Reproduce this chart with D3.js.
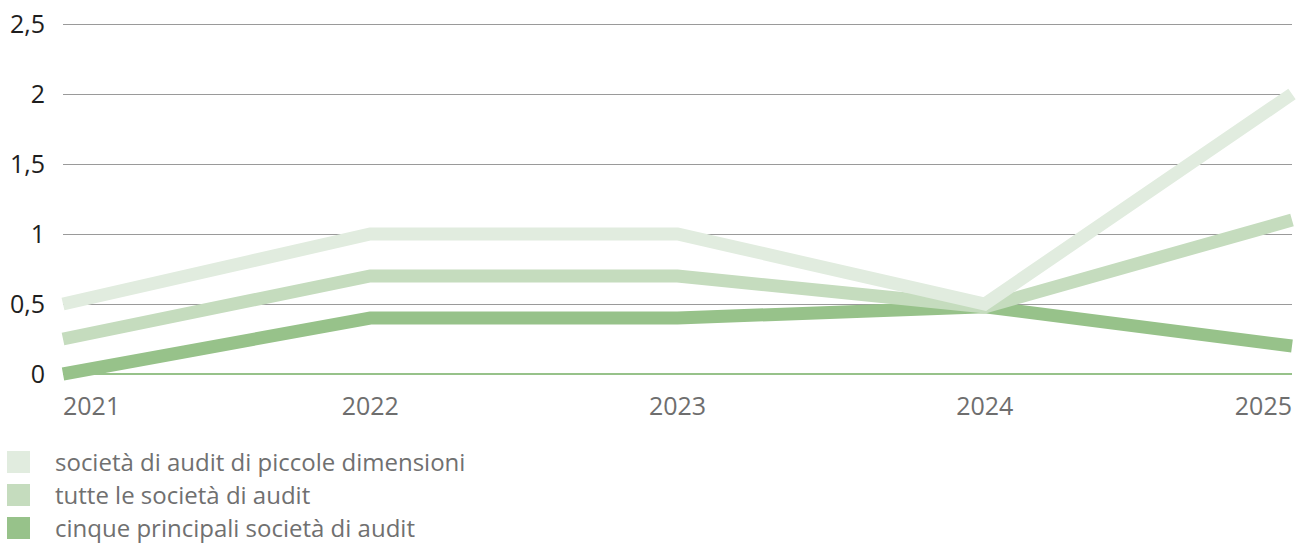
<!DOCTYPE html>
<html>
<head>
<meta charset="utf-8">
<script src="https://cdn.jsdelivr.net/npm/d3@7"></script>
<style>
  body { margin: 0; background: #fff; }
  text { font-family: "Open Sans", "Noto Sans", sans-serif; }
</style>
</head>
<body>
<script>
// dati
var years = ["2021", "2022", "2023", "2024", "2025"];
var piccole = [0.5, 1, 1, 0.5, 2];
var tutte = [0.25, 0.7, 0.7, 0.48, 1.1];
var cinque = [0, 0.4, 0.4, 0.48, 0.2];
var yTicks = [0, 0.5, 1, 1.5, 2, 2.5];
var seriesNames = ["società di audit di piccole dimensioni", "tutte le società di audit", "cinque principali società di audit"];
var colors = ["#e1ecdf", "#c5dcbe", "#97c28a"];

var width = 1306;
var height = 545;

var svg = d3.select("body")
  .append("svg")
  .attr("width", width)
  .attr("height", height);

// scale
var xScale = d3.scalePoint()
  .domain(years)
  .range([63, 1292]);

var yScale = d3.scaleLinear()
  .domain([0, 2.5])
  .range([374, 24]);

var fmt = function (d) { return String(d).replace(".", ","); };

// griglia
svg.append("g")
  .selectAll("line")
  .data(yTicks.filter(d => d > 0))
  .enter()
  .append("line")
  .attr("x1", 63)
  .attr("x2", 1292)
  .attr("y1", d => Math.round(yScale(d)) + 0.5)
  .attr("y2", d => Math.round(yScale(d)) + 0.5)
  .attr("stroke", "#9a9a9a")
  .attr("stroke-width", 1);

// linea dello zero
svg.append("line")
  .attr("x1", 63)
  .attr("x2", 1292)
  .attr("y1", yScale(0))
  .attr("y2", yScale(0))
  .attr("stroke", "#97c28a")
  .attr("stroke-width", 2);

// etichette asse y
svg.append("g")
  .selectAll("text")
  .data(yTicks)
  .enter()
  .append("text")
  .attr("x", 45)
  .attr("y", d => yScale(d) + 9)
  .attr("text-anchor", "end")
  .attr("font-size", 25)
  .attr("fill", "#1e1e1e")
  .text(fmt);

// etichette asse x
svg.append("g")
  .selectAll("text")
  .data(years)
  .enter()
  .append("text")
  .attr("x", d => xScale(d))
  .attr("y", 415)
  .attr("text-anchor", (d, i) => i === 0 ? "start" : (i === years.length - 1 ? "end" : "middle"))
  .attr("font-size", 25)
  .attr("fill", "#6e6e6e")
  .text(d => d);

// linee
var line = d3.line()
  .x((d, i) => xScale(years[i]))
  .y(d => yScale(d));

var data = [piccole, tutte, cinque];
[2, 1, 0].forEach(function (k) {
  svg.append("path")
    .datum(data[k])
    .attr("d", line)
    .attr("fill", "none")
    .attr("stroke", colors[k])
    .attr("stroke-width", 13)
    .attr("stroke-linejoin", "miter")
    .attr("stroke-linecap", "butt");
});

// legenda
var legend = svg.append("g")
  .selectAll("g")
  .data(seriesNames)
  .enter()
  .append("g")
  .attr("transform", (d, i) => `translate(7,${451 + i * 33})`);

legend.append("rect")
  .attr("width", 23)
  .attr("height", 22)
  .attr("fill", (d, i) => colors[i]);

legend.append("text")
  .attr("x", 48)
  .attr("y", 20)
  .attr("font-size", 24)
  .attr("fill", "#707070")
  .text(d => d);
</script>
</body>
</html>
